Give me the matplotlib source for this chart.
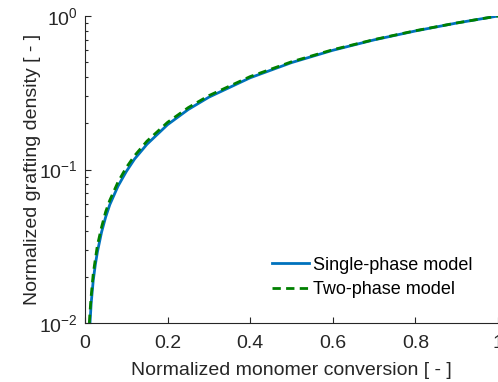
import matplotlib
matplotlib.use('Agg')
import matplotlib.pyplot as plt

# values (x: normalized conversion, y: normalized grafting density)
x_single = [0.0121, 0.015, 0.02, 0.025, 0.03, 0.04, 0.05, 0.06, 0.08, 0.10, 0.12,
            0.15, 0.20, 0.25, 0.30, 0.40, 0.50, 0.60, 0.70, 0.80, 0.90, 1.0]
y_single = [0.0100, 0.0135, 0.019, 0.024, 0.029, 0.039, 0.049, 0.059, 0.078, 0.097, 0.117,
            0.146, 0.196, 0.246, 0.296, 0.396, 0.497, 0.598, 0.699, 0.799, 0.900, 1.0]

x_two = [0.0105, 0.012, 0.015, 0.02, 0.025, 0.03, 0.04, 0.05, 0.06, 0.08, 0.10, 0.12,
         0.15, 0.20, 0.25, 0.30, 0.40, 0.50, 0.60, 0.70, 0.80, 0.90, 1.0]
y_two = [0.0100, 0.0117, 0.0150, 0.021, 0.026, 0.032, 0.042, 0.053, 0.063, 0.083, 0.103, 0.123,
         0.153, 0.203, 0.253, 0.303, 0.403, 0.503, 0.603, 0.702, 0.802, 0.901, 1.0]

x_ticks = [0, 0.2, 0.4, 0.6, 0.8, 1]
x_ticklabels = ['0', '0.2', '0.4', '0.6', '0.8', '1']

plt.rcParams['font.family'] = ['Liberation Sans', 'DejaVu Sans']
plt.rcParams['mathtext.fontset'] = 'custom'
plt.rcParams['mathtext.rm'] = 'Liberation Sans'
plt.rcParams['mathtext.it'] = 'Liberation Sans:italic'
plt.rcParams['font.size'] = 14

fig = plt.figure(figsize=(4.98, 3.82), dpi=100)
ax = fig.add_axes([85 / 498, 59 / 382, 413 / 498, 307 / 382])

ax.plot(x_single, y_single, color='#0072BD', lw=2.0, label='Single-phase model')
ax.plot(x_two, y_two, color='#008000', lw=2.0, ls=(0, (3.0, 1.9)), label='Two-phase model')

ax.set_yscale('log')
ax.set_xlim(0, 1)
ax.set_ylim(1e-2, 1)
ax.set_xticks(x_ticks)
ax.set_xticklabels(x_ticklabels)

for side in ['top', 'right']:
    ax.spines[side].set_visible(False)
for side in ['left', 'bottom']:
    ax.spines[side].set_color('#262626')
    ax.spines[side].set_linewidth(0.8)
ax.tick_params(which='both', direction='in', colors='#262626', labelcolor='#262626',
               labelsize=14)
ax.tick_params(which='major', length=4.5, width=0.8)
ax.tick_params(axis='x', which='major', pad=8.5)
ax.tick_params(axis='y', which='major', pad=5)
ax.tick_params(which='minor', length=2.5, width=0.8)

ax.set_xlabel('Normalized monomer conversion [ - ]', fontsize=14, color='#262626', labelpad=7)
ax.set_ylabel('Normalized grafting density [ - ]', fontsize=14, color='#262626', labelpad=-1)

ax.legend(loc='lower right', bbox_to_anchor=(0.978, 0.027), frameon=False, fontsize=13,
          handlelength=2.05, handletextpad=0.22, labelspacing=0.44)

fig.savefig('out.png', dpi=100)
